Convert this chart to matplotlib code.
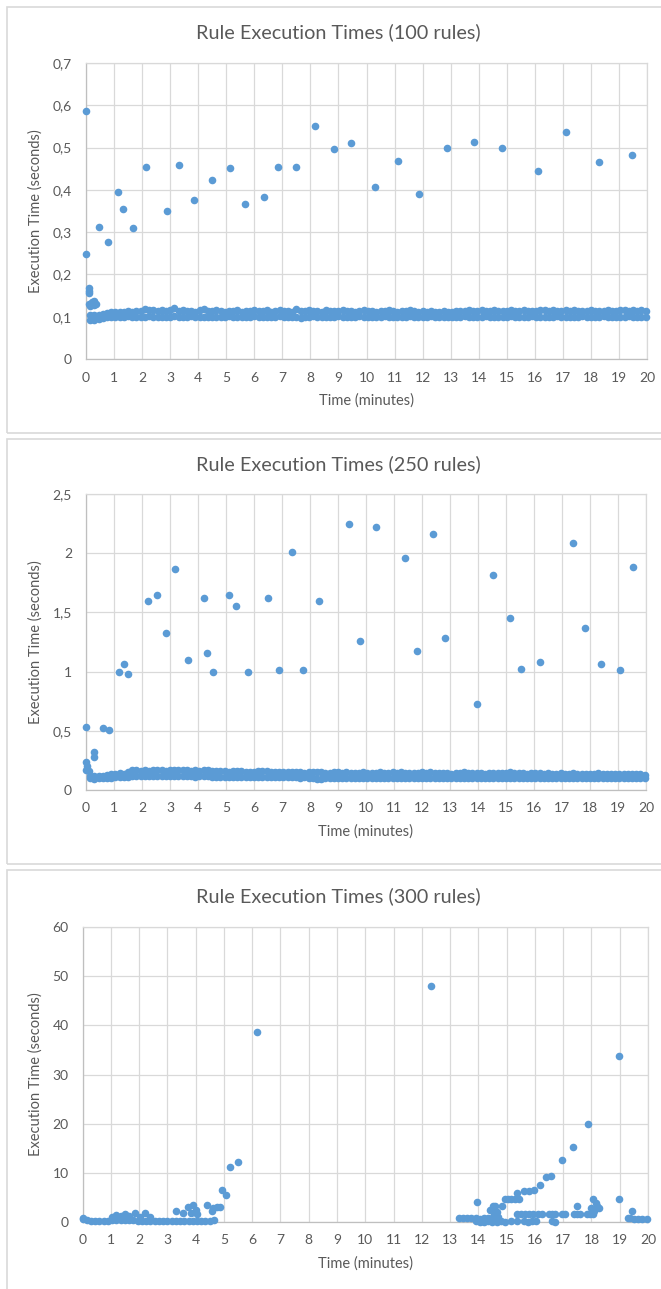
import numpy as np
import matplotlib
matplotlib.use('Agg')
import matplotlib.pyplot as plt
from matplotlib.patches import Rectangle
from matplotlib.ticker import FuncFormatter

plt.rcParams['font.family'] = ['Lato', 'DejaVu Sans']

W, H = 661, 1289
BLUE = '#5B9BD5'
TXT = '#595959'
GRID = '#D9D9D9'

#++++++++++++++++++++++++++++++++++++++++++++++
# data (minutes, seconds)
#++++++++++++++++++++++++++++++++++++++++++++++
# sampling times of the dense band (100 and 250 rules)
t_grid = [0.15, 0.30, 0.45, 0.60, 0.75, 0.90, 1.05, 1.20, 1.35, 1.50,
          1.65, 1.80, 1.95, 2.10, 2.25, 2.40, 2.55, 2.70, 2.85, 3.00,
          3.15, 3.30, 3.45, 3.60, 3.75, 3.90, 4.05, 4.20, 4.35, 4.50,
          4.65, 4.80, 4.95, 5.10, 5.25, 5.40, 5.55, 5.70, 5.85, 6.00,
          6.15, 6.30, 6.45, 6.60, 6.75, 6.90, 7.05, 7.20, 7.35, 7.50,
          7.65, 7.80, 7.95, 8.10, 8.25, 8.40, 8.55, 8.70, 8.85, 9.00,
          9.15, 9.30, 9.45, 9.60, 9.75, 9.90, 10.05, 10.20, 10.35, 10.50,
          10.65, 10.80, 10.95, 11.10, 11.25, 11.40, 11.55, 11.70, 11.85, 12.00,
          12.15, 12.30, 12.45, 12.60, 12.75, 12.90, 13.05, 13.20, 13.35, 13.50,
          13.65, 13.80, 13.95, 14.10, 14.25, 14.40, 14.55, 14.70, 14.85, 15.00,
          15.15, 15.30, 15.45, 15.60, 15.75, 15.90, 16.05, 16.20, 16.35, 16.50,
          16.65, 16.80, 16.95, 17.10, 17.25, 17.40, 17.55, 17.70, 17.85, 18.00,
          18.15, 18.30, 18.45, 18.60, 18.75, 18.90, 19.05, 19.20, 19.35, 19.50,
          19.65, 19.80, 19.95]

# 100 rules
band1_lo = [0.093, 0.092, 0.094, 0.097, 0.099, 0.100, 0.100, 0.099, 0.100, 0.101,
            0.100, 0.099, 0.100, 0.100, 0.101, 0.100, 0.099, 0.100, 0.100, 0.100,
            0.101, 0.100, 0.099, 0.100, 0.101, 0.100, 0.100, 0.099, 0.100, 0.100,
            0.100, 0.099, 0.100, 0.101, 0.100, 0.100, 0.099, 0.100, 0.100, 0.101,
            0.100, 0.100, 0.099, 0.100, 0.100, 0.101, 0.100, 0.099, 0.100, 0.100,
            0.098, 0.100, 0.100, 0.101, 0.100, 0.099, 0.100, 0.100, 0.100, 0.101,
            0.100, 0.099, 0.100, 0.100, 0.101, 0.100, 0.100, 0.099, 0.100, 0.100,
            0.101, 0.100, 0.099, 0.100, 0.100, 0.100, 0.101, 0.100, 0.099, 0.100,
            0.100, 0.101, 0.100, 0.099, 0.100, 0.100, 0.100, 0.099, 0.100, 0.101,
            0.100, 0.100, 0.099, 0.100, 0.101, 0.100, 0.100, 0.099, 0.100, 0.100,
            0.101, 0.100, 0.099, 0.100, 0.100, 0.101, 0.100, 0.100, 0.099, 0.100,
            0.100, 0.101, 0.100, 0.099, 0.100, 0.100, 0.100, 0.101, 0.100, 0.099,
            0.100, 0.100, 0.101, 0.100, 0.099, 0.100, 0.100, 0.100, 0.101, 0.100,
            0.099, 0.100, 0.100]
band1_hi = [0.104, 0.103, 0.105, 0.106, 0.108, 0.110, 0.111, 0.112, 0.111, 0.113,
            0.112, 0.113, 0.114, 0.118, 0.115, 0.117, 0.114, 0.116, 0.113, 0.115,
            0.121, 0.114, 0.115, 0.113, 0.114, 0.112, 0.115, 0.118, 0.114, 0.113,
            0.115, 0.113, 0.112, 0.114, 0.113, 0.115, 0.112, 0.114, 0.113, 0.115,
            0.114, 0.113, 0.115, 0.112, 0.114, 0.115, 0.113, 0.114, 0.112, 0.118,
            0.113, 0.114, 0.115, 0.113, 0.114, 0.112, 0.115, 0.114, 0.113, 0.114,
            0.115, 0.113, 0.114, 0.112, 0.113, 0.115, 0.114, 0.113, 0.112, 0.114,
            0.113, 0.115, 0.114, 0.112, 0.113, 0.114, 0.115, 0.113, 0.112, 0.113,
            0.112, 0.113, 0.111, 0.112, 0.113, 0.112, 0.111, 0.113, 0.114, 0.113,
            0.115, 0.114, 0.113, 0.115, 0.114, 0.113, 0.115, 0.114, 0.113, 0.114,
            0.115, 0.114, 0.113, 0.115, 0.114, 0.113, 0.114, 0.116, 0.115, 0.114,
            0.115, 0.114, 0.113, 0.115, 0.114, 0.115, 0.113, 0.114, 0.113, 0.115,
            0.114, 0.113, 0.114, 0.115, 0.113, 0.114, 0.115, 0.116, 0.114, 0.115,
            0.114, 0.115, 0.113]
out1_t = [0.0, 0.0, 0.12, 0.12, 0.12, 0.10, 0.20, 0.30, 0.35, 0.15, 0.30, 0.48,
          0.80, 1.15, 1.32, 1.68, 2.14, 2.89, 3.32, 3.85, 4.49, 5.13, 5.68, 6.33,
          6.85, 7.49, 8.16, 8.84, 9.45, 10.30, 11.12, 11.87, 12.87, 13.83, 14.83,
          16.11, 17.11, 18.29, 19.47]
out1_y = [0.586, 0.248, 0.168, 0.160, 0.155, 0.130, 0.135, 0.137, 0.130, 0.125, 0.128, 0.311,
          0.277, 0.395, 0.355, 0.309, 0.454, 0.349, 0.459, 0.375, 0.423, 0.452, 0.367, 0.384,
          0.454, 0.454, 0.551, 0.497, 0.511, 0.407, 0.468, 0.390, 0.499, 0.513, 0.499,
          0.445, 0.537, 0.466, 0.482]

# 250 rules
band2_lo = [0.100, 0.095, 0.098, 0.100, 0.102, 0.105, 0.108, 0.110, 0.112, 0.113,
            0.115, 0.116, 0.115, 0.117, 0.116, 0.118, 0.117, 0.116, 0.118, 0.117,
            0.116, 0.118, 0.117, 0.116, 0.115, 0.114, 0.116, 0.117, 0.115, 0.114,
            0.113, 0.112, 0.113, 0.111, 0.112, 0.110, 0.111, 0.110, 0.109, 0.110,
            0.108, 0.107, 0.109, 0.106, 0.108, 0.107, 0.106, 0.108, 0.107, 0.106,
            0.105, 0.106, 0.104, 0.103, 0.095, 0.092, 0.103, 0.104, 0.105, 0.104,
            0.105, 0.103, 0.104, 0.105, 0.103, 0.104, 0.105, 0.104, 0.103, 0.105,
            0.104, 0.103, 0.105, 0.104, 0.103, 0.104, 0.105, 0.103, 0.104, 0.105,
            0.104, 0.103, 0.105, 0.104, 0.103, 0.104, 0.105, 0.104, 0.103, 0.104,
            0.105, 0.104, 0.103, 0.104, 0.105, 0.103, 0.104, 0.105, 0.104, 0.103,
            0.104, 0.105, 0.103, 0.104, 0.105, 0.104, 0.103, 0.104, 0.105, 0.103,
            0.104, 0.103, 0.105, 0.104, 0.103, 0.104, 0.105, 0.104, 0.103, 0.104,
            0.105, 0.103, 0.104, 0.105, 0.104, 0.103, 0.104, 0.105, 0.103, 0.104,
            0.104, 0.103, 0.105]
band2_hi = [0.120, 0.115, 0.118, 0.120, 0.128, 0.132, 0.135, 0.140, 0.138, 0.148,
            0.165, 0.168, 0.160, 0.170, 0.162, 0.172, 0.165, 0.168, 0.160, 0.170,
            0.166, 0.172, 0.165, 0.168, 0.160, 0.166, 0.162, 0.170, 0.168, 0.164,
            0.160, 0.158, 0.163, 0.155, 0.160, 0.157, 0.162, 0.156, 0.150, 0.155,
            0.160, 0.158, 0.162, 0.155, 0.150, 0.155, 0.152, 0.150, 0.148, 0.156,
            0.150, 0.145, 0.150, 0.152, 0.148, 0.154, 0.142, 0.145, 0.150, 0.152,
            0.144, 0.148, 0.145, 0.140, 0.146, 0.150, 0.143, 0.147, 0.145, 0.152,
            0.145, 0.142, 0.148, 0.144, 0.150, 0.143, 0.140, 0.146, 0.142, 0.148,
            0.145, 0.150, 0.143, 0.140, 0.146, 0.142, 0.138, 0.145, 0.140, 0.148,
            0.142, 0.145, 0.140, 0.146, 0.138, 0.143, 0.141, 0.145, 0.140, 0.143,
            0.148, 0.142, 0.140, 0.145, 0.138, 0.142, 0.140, 0.144, 0.138, 0.140,
            0.138, 0.135, 0.140, 0.136, 0.138, 0.140, 0.135, 0.138, 0.136, 0.139,
            0.137, 0.140, 0.135, 0.138, 0.136, 0.134, 0.138, 0.135, 0.137, 0.134,
            0.133, 0.136, 0.130]
out2_t = [0.0, 0.0, 0.0, 0.05, 0.10, 0.27, 0.28, 0.62, 0.81, 1.18, 1.36, 1.50,
          2.21, 2.54, 2.86, 3.18, 3.64, 4.21, 4.32, 4.54, 5.11, 5.36, 5.79, 6.50,
          6.89, 7.36, 7.75, 8.32, 9.39, 9.79, 10.36, 11.39, 11.82, 12.39, 12.82,
          13.96, 14.54, 15.14, 15.54, 16.21, 17.39, 17.82, 18.39, 19.07, 19.54]
out2_y = [0.53, 0.24, 0.17, 0.20, 0.16, 0.32, 0.28, 0.52, 0.51, 1.00, 1.06, 0.98,
          1.60, 1.65, 1.33, 1.87, 1.10, 1.62, 1.16, 1.00, 1.65, 1.55, 1.00, 1.62,
          1.01, 2.01, 1.01, 1.60, 2.25, 1.26, 2.22, 1.96, 1.17, 2.16, 1.28,
          0.73, 1.82, 1.45, 1.02, 1.08, 2.09, 1.37, 1.06, 1.01, 1.88]

# 300 rules
left3_t = [0.00, 0.15, 0.30, 0.45, 0.60, 0.75, 0.90, 1.05, 1.20, 1.35,
           1.50, 1.65, 1.80, 1.95, 2.10, 2.25, 2.40, 2.55, 2.70, 2.85,
           3.00, 3.15, 3.30, 3.45, 3.60, 3.75, 3.90, 4.05, 4.20, 4.35,
           4.50, 4.65]
left3_y = [0.6, 0.4, 0.3, 0.3, 0.3, 0.3, 0.3, 0.4, 0.4, 0.4,
           0.5, 0.4, 0.4, 0.3, 0.3, 0.3, 0.3, 0.3, 0.3, 0.3,
           0.3, 0.3, 0.3, 0.3, 0.3, 0.3, 0.3, 0.3, 0.3, 0.3,
           0.3, 0.5]
rowA3_t = [13.30, 13.45, 13.60, 13.75, 13.90, 14.05, 14.20, 14.35, 14.50,
           19.35, 19.50, 19.65, 19.80, 19.95]
rowA3_y = [0.8, 0.8, 0.8, 0.8, 0.8, 0.7, 0.8, 0.8, 0.9,
           0.8, 0.7, 0.7, 0.7, 0.7]
rowB3_t = [13.90, 14.05, 14.20, 14.35, 14.50, 14.65, 14.80, 14.95, 15.15, 15.35,
           15.60, 15.75, 15.90, 16.05, 16.60, 16.70]
rowB3_y = [0.2, 0.1, 0.1, 0.2, 0.1, 0.1, 0.2, 0.1, 0.2, 0.2,
           0.2, 0.1, 0.2, 0.2, 0.2, 0.1]
rowC3_t = [15.35, 15.50, 15.65, 15.80, 15.95, 16.10, 16.25, 16.50, 16.60, 16.70,
           16.95, 17.05, 17.40, 17.50, 17.60, 17.85, 17.95, 18.05]
rowC3_y = [1.6, 1.7, 1.6, 1.7, 1.6, 1.7, 1.6, 1.7, 1.7, 1.6,
           1.7, 1.7, 1.7, 1.6, 1.7, 1.7, 1.6, 1.7]
out3_t = [0.00, 1.17, 1.52, 1.87, 2.22, 2.40, 1.05, 1.35, 1.65, 2.05,
          3.29, 3.56, 3.73, 3.90, 3.85, 4.00, 4.05, 4.42, 4.58, 4.62,
          4.76, 4.85, 4.94, 5.08, 5.23, 5.50, 6.18, 12.33, 13.95, 14.40,
          14.45, 14.53, 14.60, 14.65, 14.55, 14.71, 14.70, 14.85, 14.95, 15.05,
          15.15, 15.30, 15.45, 15.36, 15.63, 15.80, 15.98, 16.18, 16.40, 16.57,
          16.96, 17.34, 17.87, 17.48, 18.00, 18.05, 18.10, 18.15, 18.20, 18.25,
          18.98, 18.97, 19.30, 19.42]
out3_y = [0.9, 1.4, 1.6, 1.8, 1.8, 1.1, 1.0, 1.2, 1.3, 1.0,
          2.2, 1.8, 3.1, 3.4, 1.9, 2.4, 1.7, 3.4, 2.2, 2.8,
          3.0, 3.0, 6.6, 5.5, 11.1, 12.3, 38.6, 48.1, 4.0, 2.5,
          2.4, 3.2, 3.3, 2.1, 1.4, 1.1, 0.5, 3.2, 4.7, 4.7,
          4.7, 4.7, 4.7, 5.9, 6.3, 6.3, 6.5, 7.6, 9.1, 9.4,
          12.6, 15.3, 20.0, 3.2, 2.8, 4.7, 2.3, 3.8, 3.3, 2.8,
          4.7, 33.8, 0.9, 2.2]

panels = [
    # title, ymax, ystep, axes box in pixels (left, right, top, bottom), title y
    ("Rule Execution Times (100 rules)", 0.7, 0.1, (86, 647, 63, 359), 32,
     [(t_grid, band1_lo), (t_grid, band1_hi), (out1_t, out1_y)]),
    ("Rule Execution Times (250 rules)", 2.5, 0.5, (86, 646, 494, 790), 464,
     [(t_grid, band2_lo), (t_grid, band2_hi), (out2_t, out2_y)]),
    ("Rule Execution Times (300 rules)", 60, 10, (82.5, 648, 927, 1222), 896,
     [(left3_t, left3_y), (rowA3_t, rowA3_y), (rowB3_t, rowB3_y),
      (rowC3_t, rowC3_y), (out3_t, out3_y)]),
]
boxes = [(6.5, 6.5, 432.5), (6.5, 438.5, 864), (7, 870, 1300)]  # left, top, bottom


def comma_fmt(v, pos):
    return ('%g' % round(v, 3)).replace('.', ',')


fig = plt.figure(figsize=(W / 100, H / 100), dpi=100)

for (x0, top, bot) in boxes:
    fig.add_artist(Rectangle((x0 / W, 1 - bot / H), (W + 20 - x0) / W, (bot - top) / H,
                             transform=fig.transFigure, fill=False, ec=GRID, lw=1.2))

for title, ymax, ystep, (l, r, t, b), ty, series in panels:
    ax = fig.add_axes([l / W, 1 - b / H, (r - l) / W, (b - t) / H])
    for xs, ys in series:
        ax.scatter(xs, ys, s=30, color=BLUE, linewidths=0, zorder=3, clip_on=False)
    ax.set_xlim(0, 20)
    ax.set_ylim(0, ymax)
    ax.set_xticks(np.arange(0, 21, 1))
    ax.set_yticks(np.arange(0, ymax + ystep / 2, ystep))
    ax.yaxis.set_major_formatter(FuncFormatter(comma_fmt))
    ax.grid(True, color=GRID, lw=0.9, zorder=0)
    ax.set_axisbelow(True)
    for side in ['top', 'right']:
        ax.spines[side].set_color(GRID)
        ax.spines[side].set_linewidth(0.9)
    for side in ['left', 'bottom']:
        ax.spines[side].set_color('#BFBFBF')
        ax.spines[side].set_linewidth(0.9)
    ax.tick_params(length=0, labelsize=10, labelcolor=TXT)
    ax.tick_params(axis='x', pad=9)
    ax.tick_params(axis='y', pad=10)
    ax.set_xlabel("Time (minutes)", fontsize=10.5, color=TXT, labelpad=7)
    fig.text(338 / W, 1 - ty / H, title, fontsize=14.3, color=TXT, ha='center', va='center')
    fig.text(36 / W, 1 - (t + b) / 2 / H, "Execution Time (seconds)", fontsize=10.5,
             color=TXT, rotation=90, ha='center', va='center')

fig.savefig('out.png', dpi=100)
